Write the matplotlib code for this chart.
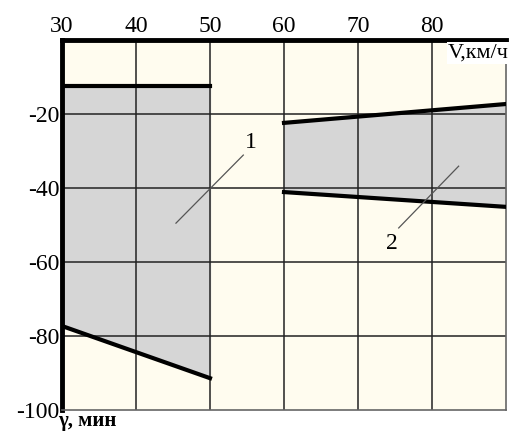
import matplotlib
matplotlib.use("Agg")
import matplotlib.pyplot as plt

plt.rcParams['font.family'] = ['Liberation Serif', 'DejaVu Serif']
plt.rcParams['axes.unicode_minus'] = False

# zone 1 (30..50 km/h)
v1 = [30, 50]
top1 = [-12.4, -12.4]
bot1 = [-77.3, -91.4]

# zone 2 (60..90 km/h)
v2 = [60, 90]
top2 = [-22.4, -17.3]
bot2 = [-41.1, -45.1]

xticks = [30, 40, 50, 60, 70, 80]
yticks = [-20, -40, -60, -80, -100]

fig = plt.figure(figsize=(5.23, 4.32), dpi=100)
ax = fig.add_axes([62/523, 22/432, 444/523, 370/432])
ax.set_facecolor('#fffcef')
ax.set_xlim(30, 90)
ax.set_ylim(-100, 0)

# fills
ax.fill_between(v1, top1, bot1, color='#d6d6d6', zorder=1)
ax.fill_between(v2, top2, bot2, color='#d6d6d6', zorder=1)

# grid
for x in xticks[1:]:
    ax.axvline(x, color='#222222', lw=1.1, zorder=2)
for y in yticks[:-1]:
    ax.axhline(y, color='#222222', lw=1.1, zorder=2)

# boundaries
ax.plot(v1, top1, color='k', lw=3, zorder=3)
ax.plot(v1, bot1, color='k', lw=3, zorder=3)
ax.plot(v2, top2, color='k', lw=3, zorder=3)
ax.plot(v2, bot2, color='k', lw=3, zorder=3)

# leader lines and numbers
ax.plot([45.4, 54.5], [-49.5, -31.1], color='#555555', lw=0.9, zorder=4)
ax.text(55.5, -27.6, '1', fontsize=17, ha='center', va='center', zorder=5)
ax.plot([75.5, 83.6], [-50.8, -34.1], color='#555555', lw=0.9, zorder=4)
ax.text(74.6, -55.1, '2', fontsize=17, ha='center', va='center', zorder=5)

# spines
for s in ['left', 'top']:
    ax.spines[s].set_linewidth(3.5)
    ax.spines[s].set_color('black')
for s in ['right', 'bottom']:
    ax.spines[s].set_linewidth(1.2)
    ax.spines[s].set_color('#666666')

ax.xaxis.tick_top()
ax.set_xticks(xticks)
ax.set_yticks(yticks)
ax.tick_params(length=0, labelsize=17, pad=2)

ax.text(90.4, -3.6, 'V,км/ч', fontsize=16, ha='right', va='center',
        bbox=dict(facecolor='white', edgecolor='none', pad=1), zorder=6)
ax.text(29.5, -100.3, 'γ, мин', fontsize=15, fontweight='bold',
        ha='left', va='top', clip_on=False)

fig.savefig('out.png', dpi=100)
